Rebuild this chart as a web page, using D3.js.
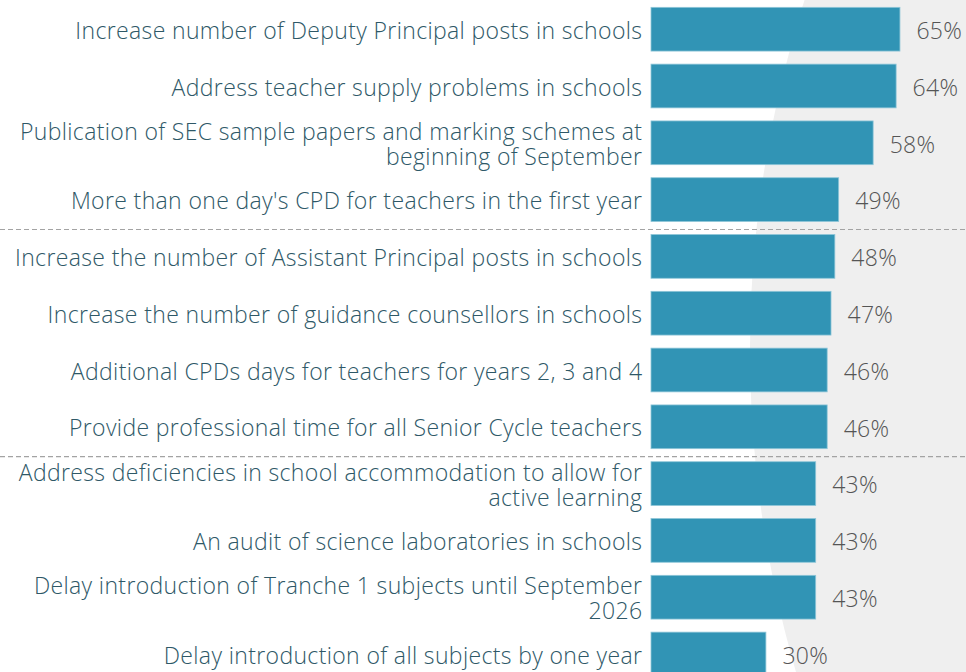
<!DOCTYPE html>
<html>
<head>
<meta charset="utf-8">
<script src="https://cdn.jsdelivr.net/npm/d3@7"></script>
<style>
  body { margin: 0; background: #fff; }
  svg { display: block; }
  .cat-label { font-family: "Open Sans", sans-serif; font-weight: 300; font-size: 23px; letter-spacing: 0.36px; fill: #2e5867; }
  .val-label { font-family: "Open Sans", sans-serif; font-weight: 300; font-size: 23px; letter-spacing: 0.3px; fill: #555555; }
</style>
</head>
<body>
<div id="chart"></div>
<script>
// categories, top to bottom ("\n" = line break in the label)
const categories = [
  "Increase number of Deputy Principal posts in schools",
  "Address teacher supply problems in schools",
  "Publication of SEC sample papers and marking schemes at\nbeginning of September",
  "More than one day's CPD for teachers in the first year",
  "Increase the number of Assistant Principal posts in schools",
  "Increase the number of guidance counsellors in schools",
  "Additional CPDs days for teachers for years 2, 3 and 4",
  "Provide professional time for all Senior Cycle teachers",
  "Address deficiencies in school accommodation to allow for\nactive learning",
  "An audit of science laboratories in schools",
  "Delay introduction of Tranche 1 subjects until September\n2026",
  "Delay introduction of all subjects by one year"
];
const values = [65, 64, 58, 49, 48, 47, 46, 46, 43, 43, 43, 30];
// dashed separators are drawn above these rows
const groupStarts = [4, 8];

const width = 966, height = 672;
const barLeft = 651;

const svg = d3.select("#chart").append("svg")
    .attr("width", width)
    .attr("height", height);

// light grey curved backdrop on the right
svg.append("circle")
    .attr("cx", 1900)
    .attr("cy", 350)
    .attr("r", 1150)
    .attr("fill", "#efefef");

const x = d3.scaleLinear().domain([0, 100]).range([barLeft, barLeft + 383]);
const y = d3.scaleBand()
    .domain(categories)
    .range([0.8, 0.8 + 56.8 * categories.length])
    .paddingInner(0.23)
    .paddingOuter(0.115);

const rows = categories.map((c, i) => ({ cat: c, value: values[i] }));

// separators
const gap = y.step() - y.bandwidth();
svg.selectAll(".sep")
  .data(groupStarts)
  .enter().append("line")
    .attr("class", "sep")
    .attr("x1", 0)
    .attr("x2", width)
    .attr("y1", d => y(categories[d]) - gap / 2 + 1.5)
    .attr("y2", d => y(categories[d]) - gap / 2 + 1.5)
    .attr("stroke", "#a3a3a3")
    .attr("stroke-width", 1.2)
    .attr("stroke-dasharray", "5,3");

// bars
svg.selectAll(".bar")
  .data(rows)
  .enter().append("rect")
    .attr("class", "bar")
    .attr("x", x(0))
    .attr("y", d => y(d.cat))
    .attr("width", d => x(d.value) - x(0))
    .attr("height", y.bandwidth())
    .attr("fill", "#3194b5")
    .attr("stroke", "#8ec6d8")
    .attr("stroke-width", 0.8);

// category labels
const lineH = 25;
svg.selectAll(".cat-label")
  .data(rows)
  .enter().append("text")
    .attr("class", "cat-label")
    .attr("text-anchor", "end")
    .each(function(d) {
      const lines = d.cat.split("\n");
      const mid = y(d.cat) + y.bandwidth() / 2;
      const base = mid + 9.5 - lineH * (lines.length - 1) / 2;
      d3.select(this).selectAll("tspan")
        .data(lines)
        .enter().append("tspan")
          .attr("x", barLeft - 8.6)
          .attr("y", (l, i) => base + i * lineH)
          .text(l => l);
    });

// value labels
svg.selectAll(".val-label")
  .data(rows)
  .enter().append("text")
    .attr("class", "val-label")
    .attr("x", d => x(d.value) + 16.5)
    .attr("y", d => y(d.cat) + y.bandwidth() / 2 + 9.8)
    .text(d => d.value + "%");
</script>
</body>
</html>
